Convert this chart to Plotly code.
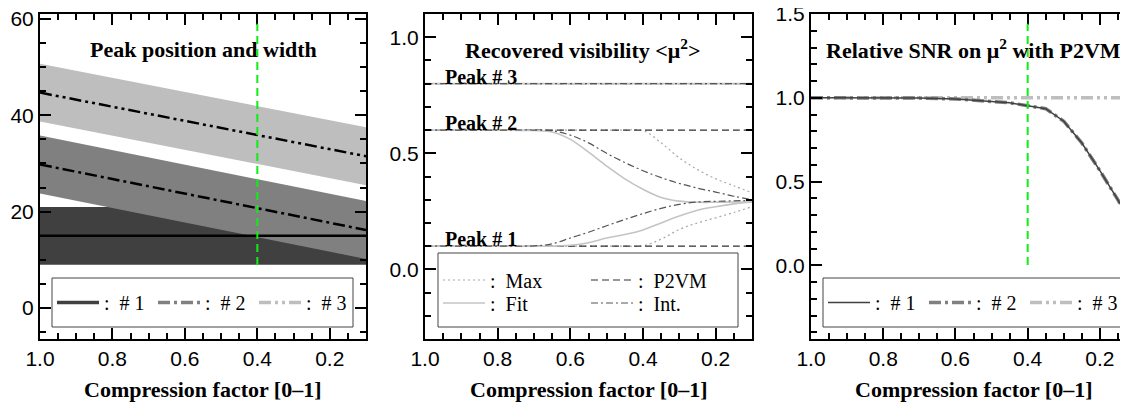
import plotly.graph_objects as go

# ---------------- data ----------------
# Panel 1: peak position (centre) and width vs compression factor (linear, read at both ends)
comp_ends = [1.0, 0.1]
peak1_center = [15.0, 15.0]
peak2_center = [29.8, 16.2]
peak3_center = [44.7, 31.5]
peak1_halfwidth = [6.0, 6.0]
peak2_halfwidth = [6.0, 6.0]
peak3_halfwidth = [6.0, 6.0]
selected_compression = 0.4

# Panel 2: recovered visibility
vis_comp = [1.0, 0.9, 0.8, 0.7, 0.65, 0.6, 0.55, 0.5, 0.45, 0.4, 0.35, 0.3, 0.25, 0.2, 0.15, 0.1]
p2vm_peak1 = [0.1] * 16
p2vm_peak2 = [0.6] * 16
p2vm_peak3 = [0.8] * 16
max_peak1 = [0.1, 0.1, 0.1, 0.1, 0.1, 0.1, 0.1, 0.1, 0.1, 0.102, 0.13, 0.172, 0.2, 0.222, 0.245, 0.27]
max_peak2 = [0.6, 0.6, 0.6, 0.6, 0.6, 0.6, 0.6, 0.6, 0.6, 0.598, 0.545, 0.48, 0.43, 0.39, 0.36, 0.33]
max_peak3 = [0.8] * 16
fit_peak1 = [0.1, 0.1, 0.1, 0.1, 0.1, 0.104, 0.115, 0.135, 0.15, 0.17, 0.2, 0.23, 0.255, 0.27, 0.282, 0.29]
fit_peak2 = [0.6, 0.6, 0.6, 0.598, 0.592, 0.56, 0.505, 0.445, 0.39, 0.345, 0.31, 0.294, 0.289, 0.289, 0.29, 0.29]
fit_peak3 = [0.8] * 16
int_peak1 = [0.1, 0.1, 0.1, 0.101, 0.11, 0.135, 0.16, 0.188, 0.215, 0.24, 0.263, 0.28, 0.29, 0.293, 0.295, 0.297]
int_peak2 = [0.6, 0.6, 0.6, 0.6, 0.597, 0.578, 0.545, 0.5, 0.46, 0.425, 0.395, 0.37, 0.35, 0.333, 0.315, 0.3]
int_peak3 = [0.8] * 16
peak_labels = ["Peak # 1", "Peak # 2", "Peak # 3"]
peak_levels = [0.1, 0.6, 0.8]

# Panel 3: relative SNR
snr_comp = [1.0, 0.9, 0.8, 0.7, 0.6, 0.5, 0.45, 0.4, 0.35, 0.3, 0.25, 0.2, 0.15, 0.1]
snr_peak1 = [1.0, 1.0, 1.0, 0.998, 0.993, 0.98, 0.97, 0.952, 0.935, 0.86, 0.73, 0.565, 0.39, 0.2]
snr_peak2 = [1.0, 1.0, 1.0, 0.998, 0.993, 0.98, 0.97, 0.952, 0.935, 0.86, 0.73, 0.565, 0.39, 0.2]
snr_peak3 = [1.0] * 14

# ---------------- figure ----------------
W, H = 1128, 403
OFF = 8  # page margin of the html body
SERIF = "Liberation Serif"
SANS = "Liberation Sans"

def px(v):
    return (v - OFF) / W

def py(v):
    return 1 - (v - OFF) / H

fig = go.Figure()

dark, mid, light = "#404040", "#808080", "#bebebe"

# panel 1 bands
def band(center, hw, color):
    upper = [c + h for c, h in zip(center, hw)]
    lower = [c - h for c, h in zip(center, hw)]
    return go.Scatter(x=comp_ends + comp_ends[::-1], y=upper + lower[::-1], fill="toself",
                      fillcolor=color, line=dict(width=0), mode="lines", showlegend=False,
                      hoverinfo="skip", xaxis="x", yaxis="y")

fig.add_trace(band(peak1_center, peak1_halfwidth, dark))
fig.add_trace(band(peak2_center, peak2_halfwidth, mid))
fig.add_trace(band(peak3_center, peak3_halfwidth, light))
fig.add_trace(go.Scatter(x=comp_ends, y=peak1_center, mode="lines", line=dict(color="black", width=2.5),
                         showlegend=False, xaxis="x", yaxis="y"))
fig.add_trace(go.Scatter(x=comp_ends, y=peak2_center, mode="lines",
                         line=dict(color="black", width=2.5, dash="12px,4px,3px,4px"),
                         showlegend=False, xaxis="x", yaxis="y"))
fig.add_trace(go.Scatter(x=comp_ends, y=peak3_center, mode="lines",
                         line=dict(color="black", width=2.5, dash="12px,4px,3px,4px,3px,4px"),
                         showlegend=False, xaxis="x", yaxis="y"))
# legend entries of panel 1
leg1_styles = [(dark, "solid", 3.5), (mid, "12px,4px,3px,4px", 3.5), (light, "12px,4px,3px,4px,3px,4px", 3.5)]
for name, (c, d, w) in zip([":  # 1", ":  # 2", ":  # 3"], leg1_styles):
    fig.add_trace(go.Scatter(x=[None], y=[None], mode="lines", line=dict(color=c, dash=d, width=w),
                             name=name, legend="legend", xaxis="x", yaxis="y"))

# panel 2 curves (legend rows: Max/P2VM and Fit/Int.)
methods = [
    ("Max", [max_peak1, max_peak2, max_peak3], dict(color="#a8a8a8", width=1.2, dash="2px,3px"), "legend2"),
    ("P2VM", [p2vm_peak1, p2vm_peak2, p2vm_peak3], dict(color="#303030", width=1.2, dash="7px,4px"), "legend2"),
    ("Fit", [fit_peak1, fit_peak2, fit_peak3], dict(color="#c4c4c4", width=1.6), "legend3"),
    ("Int.", [int_peak1, int_peak2, int_peak3], dict(color="#555555", width=1.2, dash="7px,3px,2px,3px"), "legend3"),
]
for name, series, ln, leg in methods:
    for i, s in enumerate(series):
        fig.add_trace(go.Scatter(x=vis_comp, y=s, mode="lines", line=dict(shape="spline", **ln),
                                 name=":  " + name, legendgroup=name, showlegend=(i == 0), legend=leg,
                                 xaxis="x2", yaxis="y2"))

# panel 3 curves
fig.add_trace(go.Scatter(x=snr_comp, y=snr_peak3, mode="lines",
                         line=dict(color=light, width=3.5, dash="12px,4px,3px,4px,3px,4px"),
                         name=":  # 3", legend="legend4", legendrank=3, xaxis="x3", yaxis="y3"))
fig.add_trace(go.Scatter(x=snr_comp, y=snr_peak2, mode="lines",
                         line=dict(color=mid, width=3.5, dash="12px,4px,3px,4px"),
                         name=":  # 2", legend="legend4", legendrank=2, xaxis="x3", yaxis="y3"))
fig.add_trace(go.Scatter(x=snr_comp, y=snr_peak1, mode="lines", line=dict(color=dark, width=1.5),
                         name=":  # 1", legend="legend4", legendrank=1, xaxis="x3", yaxis="y3"))

# ---------------- axes ----------------
top, bottom = py(14), py(339)
tickfont = dict(family=SANS, size=21, color="black")

def xax(domain, rng):
    return dict(domain=domain, range=rng, showline=True, linecolor="black", linewidth=2,
                mirror="ticks", ticks="inside", ticklen=11, tickwidth=1.5, tickcolor="black",
                tick0=0, dtick=0.2, tickformat=".1f", tickfont=tickfont, showgrid=False,
                zeroline=False, ticklabeloverflow="allow",
                minor=dict(ticks="inside", ticklen=6, tick0=0, dtick=0.05, tickcolor="black",
                           tickwidth=1.5, showgrid=False))

def yax(anchor, rng, dtick, minor, fmt, mirror="ticks"):
    return dict(domain=[bottom, top], anchor=anchor, range=rng, showline=True, linecolor="black",
                linewidth=2, mirror=mirror, ticks="inside", ticklen=11, tickwidth=1.5,
                tickcolor="black", tick0=0, dtick=dtick, tickformat=fmt, tickfont=tickfont,
                showgrid=False, zeroline=False, ticklabeloverflow="allow",
                minor=dict(ticks="inside", ticklen=6, tick0=0, dtick=minor, tickcolor="black",
                           tickwidth=1.5, showgrid=False))

fig.update_layout(
    xaxis=dict(xax([px(40), px(366)], [1.0, 0.1]), anchor="y"),
    xaxis2=dict(xax([px(425), px(752)], [1.0, 0.1]), anchor="y2"),
    xaxis3=dict(xax([px(811), 1.0], [1.0, 0.1]), anchor="y3"),
    yaxis=yax("x", [-6.4, 61.0], 20, 5, "d"),
    yaxis2=yax("x2", [-0.3, 1.1], 0.5, 0.1, ".1f"),
    yaxis3=yax("x3", [-0.44, 1.5], 0.5, 0.1, ".1f"),
)

# ---------------- legends ----------------
legfont = dict(family=SERIF, size=20, color="black")
common_leg = dict(font=legfont, bgcolor="rgba(0,0,0,0)", borderwidth=0, xanchor="left",
                  yanchor="middle", itemclick=False, itemdoubleclick=False, tracegroupgap=0,
                  orientation="h", entrywidthmode="pixels", itemwidth=42)
fig.update_layout(
    legend=dict(common_leg, x=px(52), y=py(302.5), entrywidth=44),
    legend2=dict(common_leg, x=px(438), y=py(280), entrywidth=91),
    legend3=dict(common_leg, x=px(438), y=py(303), entrywidth=91),
    legend4=dict(common_leg, x=px(823), y=py(302.5), entrywidth=44),
)

# legend frames
for (x0, y0, x1, y1) in [(52, 278, 353, 327), (438, 253, 738, 327), (823, 278, 1123, 327)]:
    fig.add_shape(type="rect", xref="paper", yref="paper", x0=px(x0), x1=px(x1), y0=py(y1), y1=py(y0),
                  fillcolor="white", line=dict(color="#444444", width=1), layer="above")

# green marker line at the selected compression
for xr, yr in [("x", "y domain"), ("x3", "y3 domain")]:
    fig.add_shape(type="line", xref=xr, yref=yr, x0=selected_compression, x1=selected_compression,
                  y0=0.228, y1=0.97, line=dict(color="#11ee11", width=2, dash="8px,5px"),
                  layer="above")

# ---------------- annotations ----------------
titlefont = dict(family=SERIF, size=22, color="black")
ann = [
    dict(text="<b>Peak position and width</b>", xref="x domain", yref="y domain", x=0.5, y=0.892),
    dict(text="<b>Recovered visibility &lt;μ<sup>2</sup>&gt;</b>", xref="x2 domain", yref="y2 domain",
         x=0.483, y=0.892),
    dict(text="<b>Relative SNR on μ<sup>2</sup> with P2VM</b>", xref="x3 domain", yref="y3 domain",
         x=0.499, y=0.892),
]
for a in ann:
    fig.add_annotation(showarrow=False, xanchor="center", yanchor="middle", font=titlefont, **a)

for lab, lev in zip(peak_labels, peak_levels):
    fig.add_annotation(text="<b>" + lab + "</b>", xref="x2", yref="y2", x=0.95, y=lev,
                       xanchor="left", yanchor="bottom", yshift=-6, showarrow=False,
                       font=dict(family=SERIF, size=20, color="black"))

for xd in ["x domain", "x2 domain", "x3 domain"]:
    fig.add_annotation(text="<b>Compression factor [0–1]</b>", xref=xd, yref="paper", x=0.5, y=py(389),
                       xanchor="center", yanchor="middle", showarrow=False, font=titlefont)

fig.update_layout(width=W, height=H, margin=dict(l=0, r=0, t=0, b=0, autoexpand=False),
                  template="none", paper_bgcolor="white", plot_bgcolor="white")

fig.write_html("out.html")
